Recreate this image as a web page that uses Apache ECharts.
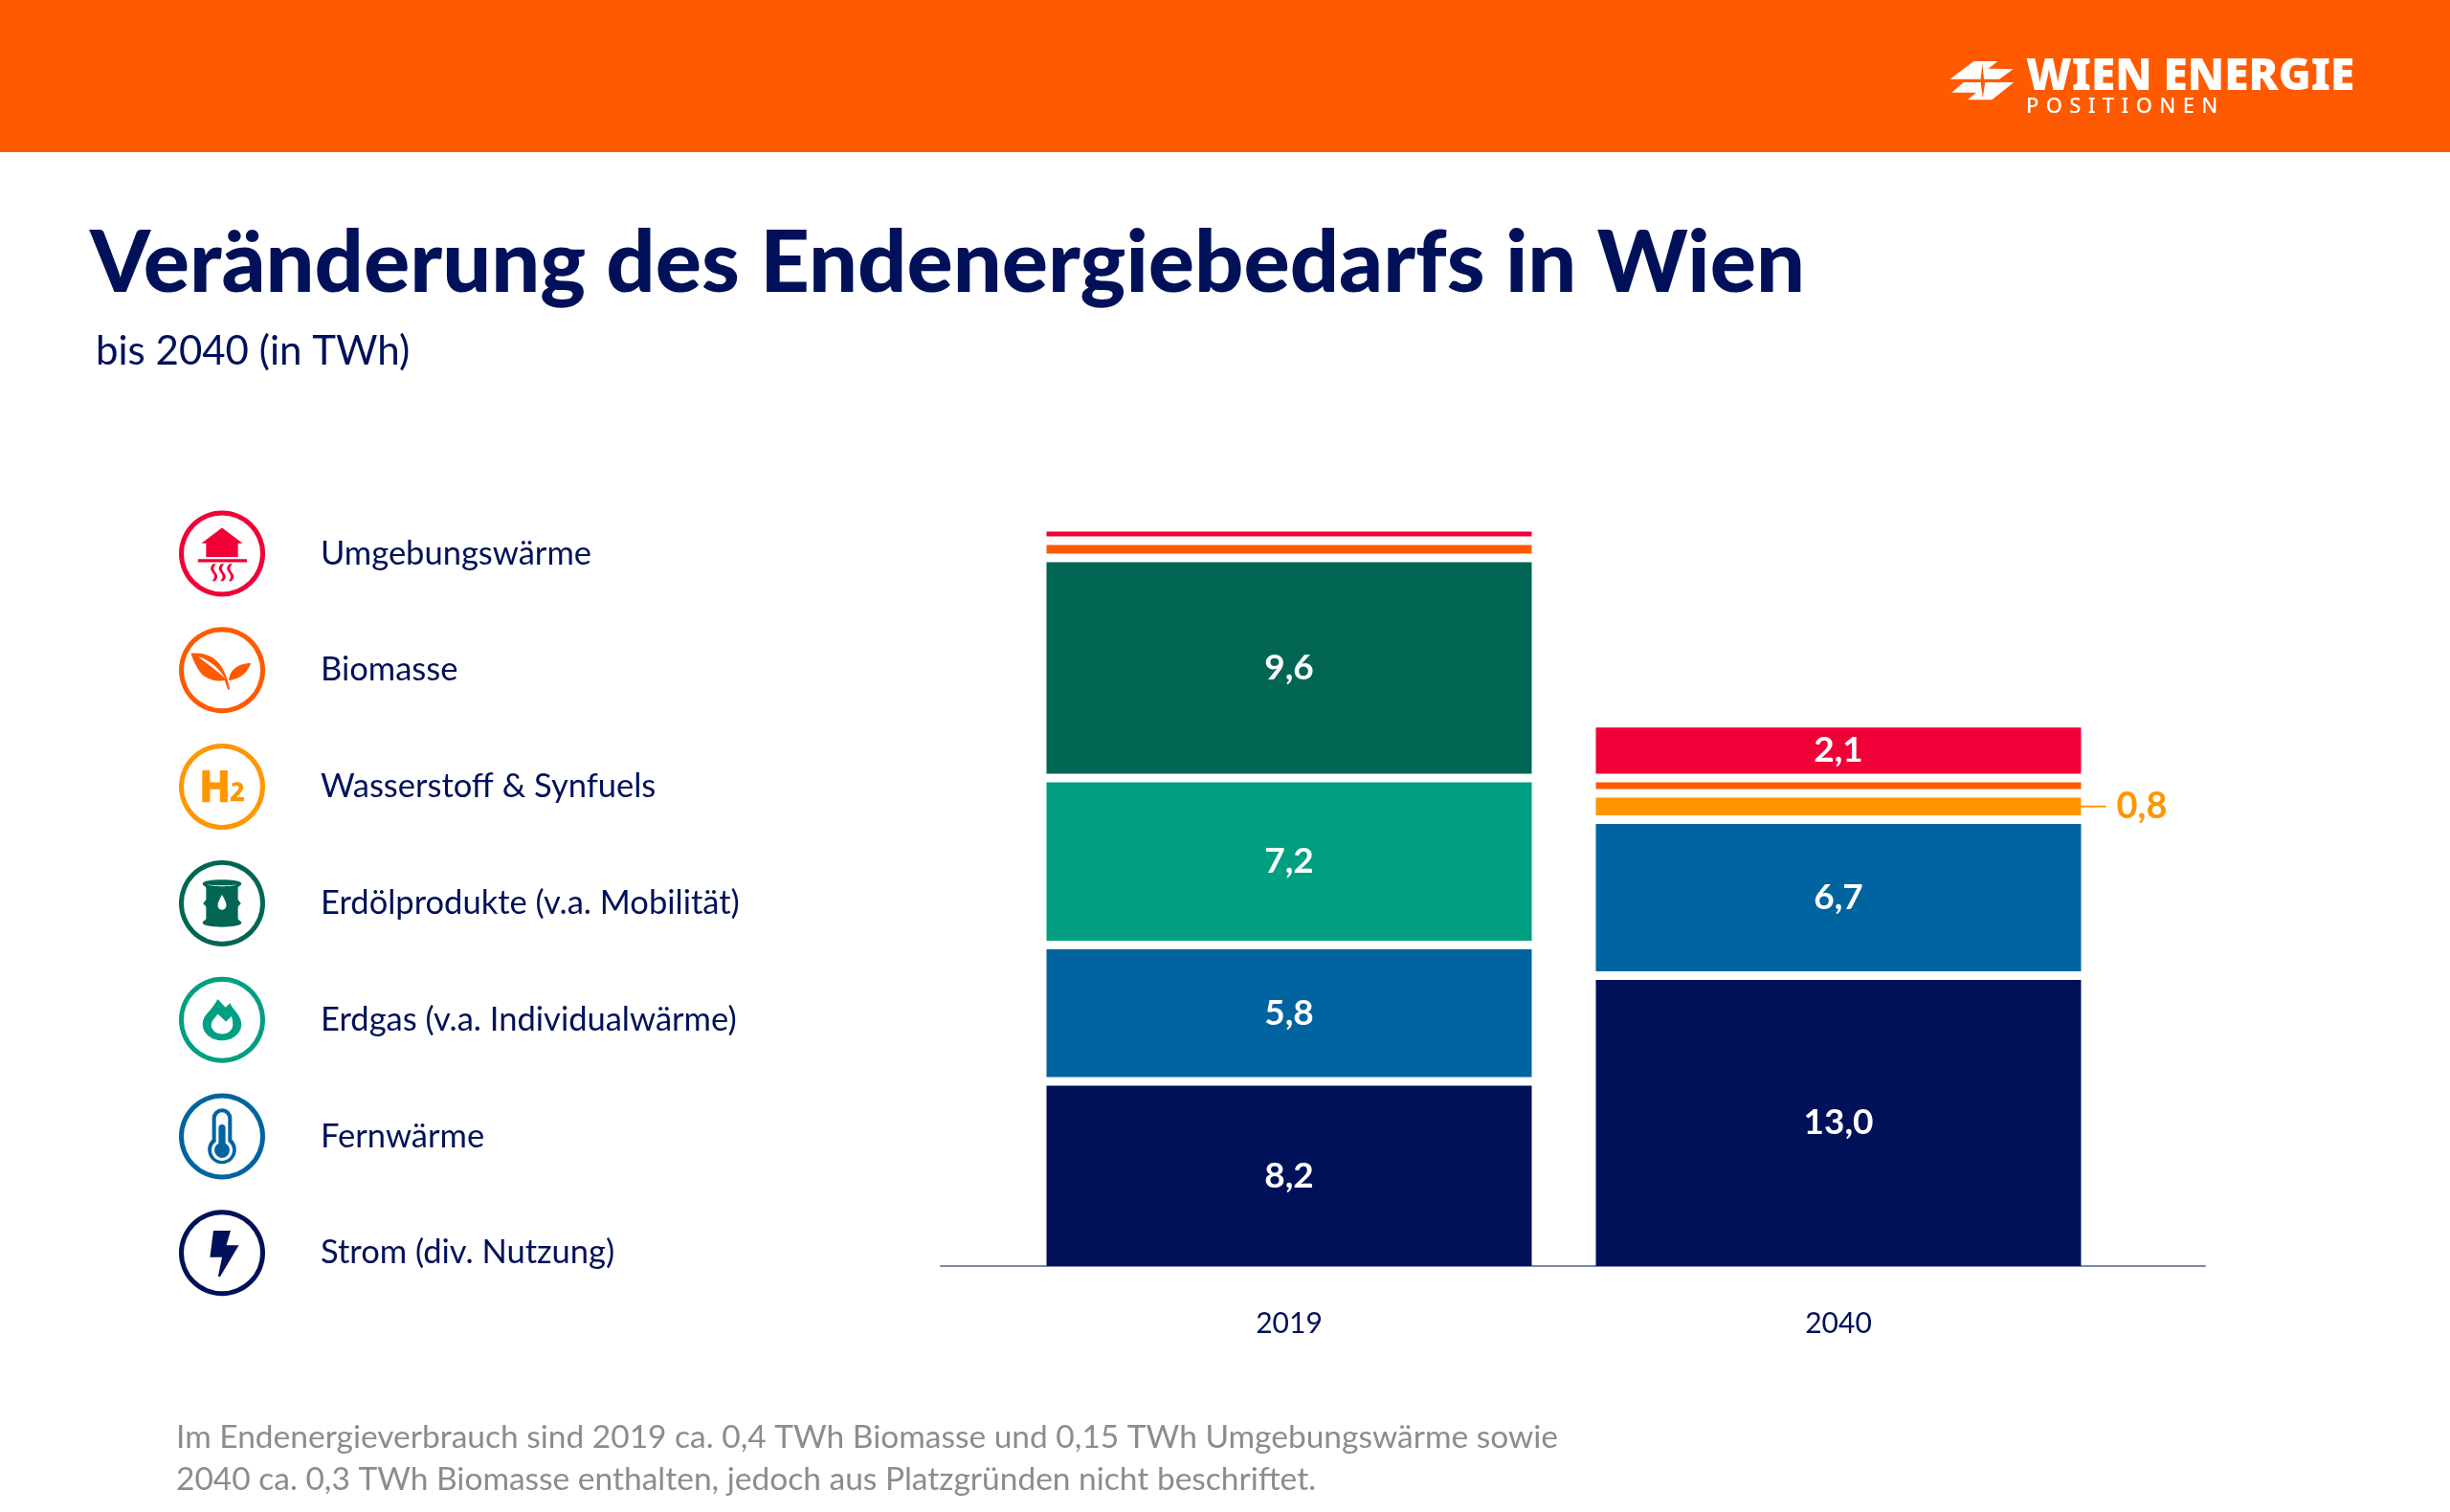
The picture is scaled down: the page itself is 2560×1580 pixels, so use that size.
<!DOCTYPE html>
<html>
<head>
<meta charset="utf-8">
<title>Veränderung des Endenergiebedarfs in Wien</title>
<script src="https://cdn.jsdelivr.net/npm/echarts@6/dist/echarts.min.js"></script>
<style>
    html, body { margin: 0; padding: 0; background: #fff; }
    #container { width: 2560px; height: 1580px; }
</style>
</head>
<body>
<div id="container"></div>
<script type="text/javascript">
    // data, in TWh
    var years = ['2019', '2040'];
    var strom = [8.2, 13.0];
    var fernwaerme = [5.8, 6.7];
    var erdgas = [7.2, null];
    var erdoel = [9.6, null];
    var wasserstoff = [null, 0.8];
    var biomasse = [0.4, 0.3];
    var umgebung = [0.15, 2.1];

    var names = ['Strom (div. Nutzung)', 'Fernwärme', 'Erdgas (v.a. Individualwärme)', 'Erdölprodukte (v.a. Mobilität)',
        'Wasserstoff & Synfuels', 'Biomasse', 'Umgebungswärme'];
    var values = [strom, fernwaerme, erdgas, erdoel, wasserstoff, biomasse, umgebung];
    var colors = ['#001159', '#0064a0', '#009f82', '#006653', '#ff9600', '#ff5a00', '#f00037'];

    var navy = '#001159';
    var font = 'Lato';

    // legend icons: ring + glyph in a 100x100 box
    var ring = 'M50 0A50 50 0 1 1 50 100A50 50 0 1 1 50 0Z M50 5.5A44.5 44.5 0 1 0 50 94.5A44.5 44.5 0 1 0 50 5.5Z ';
    var glyphs = [
        // bolt
        'M40 24H60L55 41H69.5L47.5 78L45.5 77L50 55H36Z',
        // thermometer
        'M38.5 29A11.5 11.5 0 0 1 61.5 29V53.5A16.5 16.5 0 1 1 38.5 53.5Z M57 29A7 7 0 0 0 43 29V56A12.2 12.2 0 1 0 57 56Z M46 40A4 4 0 0 1 54 40V58A8.9 8.9 0 1 1 46 58Z',
        // flame
        'M45 26L54 35.5L59.5 30.5C61 37 72.5 44 72.5 55C72.5 66 62 74 50 74C38 74 27.5 66 27.5 55C27.5 44 38 40 45 26Z M45 43C42 48 37.5 51 37.5 56C37.5 62 43 66.5 50 66.5C57 66.5 62.5 62 62.5 56C62.5 52 62 49 61 46L54.5 52Z',
        // barrel
        'M27.5 27C27.5 21 72.5 21 72.5 27C72.5 30 68.5 30 68.5 32V46L72 50L68.5 54V68C68.5 70 72.5 70 72.5 73C72.5 79 27.5 79 27.5 73C27.5 70 31.5 70 31.5 68V54L28 50L31.5 46V32C31.5 30 27.5 30 27.5 27Z M50 40C47 45 45 49 45 52.5C45 55.5 47.2 57.5 50 57.5C52.8 57.5 55 55.5 55 52.5C55 49 53 45 50 40Z M33 28.5C40 31 60 31 67 28.5C60 29.6 40 29.6 33 28.5Z',
        // H2
        'M27 31H36V45H47.5V31H56.5V68H47.5V53H36V68H27Z M61 46.5C66 43.5 74.5 44 74.5 50.5C74.5 54 72 57 67 62H75.5V66.7H60V62.8C65.5 57 69.5 53.5 69.5 50.8C69.5 48 65 48.3 62.5 50Z',
        // leaves
        'M13.7 30.5C28 29 42 33 50 47C53 53 55 57 56.5 62L59 72L57 73L53 62C46 63 34 62 26 54C20 47 17 39 13.7 30.5Z M83.5 42C80 52 72 60 59 62L58 62C58 52 67 42 83.5 42Z M22 34C32 42 44 50 54 60C47 48 36 38 22 34Z',
        // house with heat
        'M50 20L74 38H68.5V54H31.5V38H26Z M22 56.5H79V60H22Z M39.5 62C36 66 36 68 39 72C42 76 42 78 38.5 82H42C45.5 78 45.5 76 42.5 72C39.5 68 39.5 66 43 62Z M49 62C45.5 66 45.5 68 48.5 72C51.5 76 51.5 78 48 82H51.5C55 78 55 76 52 72C49 68 49 66 52.5 62Z M58.5 62C55 66 55 68 58 72C61 76 61 78 57.5 82H61C64.5 78 64.5 76 61.5 72C58.5 68 58.5 66 62 62Z'
    ];

    // white space between two stacked blocks: 9px at 23px per TWh
    var gap = 9 / 23;

    function fmt(v) {
        return v.toFixed(1).replace('.', ',');
    }

    var series = [];
    names.forEach(function (name, i) {
        series.push({
            name: name,
            type: 'bar',
            stack: 'total',
            barWidth: 507,
            barMinHeight: 5,
            itemStyle: { color: colors[i] },
            label: {
                show: true,
                position: 'inside',
                color: '#fff',
                fontFamily: font,
                fontSize: 37,
                fontWeight: 700,
                formatter: function (p) {
                    return p.value >= 1 ? fmt(p.value) : '';
                }
            },
            data: values[i].map(function (v) {
                if (v !== null && v < 1 && v >= 0.5) {
                    // too thin for the number, goes beside the bar with a leader
                    return {
                        value: v,
                        label: {
                            position: 'right',
                            distance: 0,
                            formatter: '{l|}{v|' + fmt(v) + '}',
                            rich: {
                                l: { width: 26, height: 2, backgroundColor: colors[i] },
                                v: { color: colors[i], fontFamily: font, fontSize: 38, fontWeight: 700, padding: [0, 0, 0, 11] }
                            }
                        }
                    };
                }
                return v;
            })
        });
        if (i < names.length - 1) {
            series.push({
                type: 'bar',
                stack: 'total',
                barWidth: 507,
                silent: true,
                itemStyle: { color: 'transparent' },
                data: values[i].map(function (v) { return v === null ? null : gap; })
            });
        }
    });

    var legendData = names.map(function (name, i) {
        return { name: name, icon: 'path://' + ring + glyphs[i] };
    }).reverse();

    var dom = document.getElementById('container');
    var myChart = echarts.init(dom);

    var option = {
        animation: false,
        backgroundColor: '#fff',
        title: [
            {
                text: 'Veränderung des Endenergiebedarfs in Wien',
                left: 89, top: 226,
                textStyle: { color: navy, fontFamily: font, fontSize: 90, fontWeight: 900 }
            },
            {
                text: 'bis 2040 (in TWh)',
                left: 95, top: 341,
                textStyle: { color: navy, fontFamily: font, fontSize: 42, fontWeight: 400 }
            },
            {
                text: 'Im Endenergieverbrauch sind 2019 ca. 0,4 TWh Biomasse und 0,15 TWh Umgebungswärme sowie\n2040 ca. 0,3 TWh Biomasse enthalten, jedoch aus Platzgründen nicht beschriftet.',
                left: 179, top: 1475,
                textStyle: { color: '#8c8c8c', fontFamily: font, fontSize: 33.5, fontWeight: 400, lineHeight: 44 }
            }
        ],
        legend: {
            orient: 'vertical',
            left: 187,
            top: 533.5,
            padding: 0,
            itemWidth: 90,
            itemHeight: 90,
            itemGap: 31.8,
            selectedMode: false,
            textStyle: { color: navy, fontFamily: font, fontSize: 34.5, padding: [6, 0, 0, 53] },
            data: legendData
        },
        grid: [
            { left: 1060, top: 541, width: 1148, height: 782 },
            { left: 983, top: 541, width: 1321, height: 782 }
        ],
        xAxis: [
            {
                type: 'category',
                gridIndex: 0,
                data: years,
                axisLine: { show: false },
                axisTick: { show: false },
                axisLabel: { color: navy, fontFamily: font, fontSize: 30, margin: 45 }
            },
            {
                // baseline runs wider than the two bars
                type: 'category',
                gridIndex: 1,
                data: years,
                axisLine: { lineStyle: { color: '#7f88ac', width: 2 } },
                axisTick: { show: false },
                axisLabel: { show: false }
            }
        ],
        yAxis: [
            { type: 'value', gridIndex: 0, min: 0, max: 34, show: false },
            { type: 'value', gridIndex: 1, min: 0, max: 34, show: false }
        ],
        series: series,
        graphic: [
            { type: 'rect', z: -1, shape: { x: 0, y: 0, width: 2560, height: 159 }, style: { fill: '#ff5a00' } },
            { type: 'polygon', shape: { points: [[2062.5, 64], [2087.5, 64], [2077.5, 71.7], [2103.6, 72.3], [2089, 82.7], [2073, 82.7], [2071.4, 67], [2069.6, 82.7], [2037.5, 82.7]] }, style: { fill: '#fff' } },
            { type: 'polygon', shape: { points: [[2051.8, 86], [2069.6, 86], [2071.8, 101.7], [2074.3, 86], [2104.3, 86], [2081.4, 104.3], [2056, 104.3], [2065, 96.7], [2039.3, 96.7]] }, style: { fill: '#fff' } },
            { type: 'text', x: 2117, y: 58, style: { text: 'WIEN ENERGIE', fill: '#fff', font: '900 46px "Noto Sans"' } },
            { type: 'text', x: 2117, y: 101, style: { text: 'P\u2004O\u2004S\u2004I\u2004T\u2004I\u2004O\u2004N\u2004E\u2004N', fill: '#fff', font: '500 22px "Noto Sans"' } }
        ]
    };

    if (option && typeof option === 'object') {
        myChart.setOption(option);
    }
</script>
</body>
</html>
